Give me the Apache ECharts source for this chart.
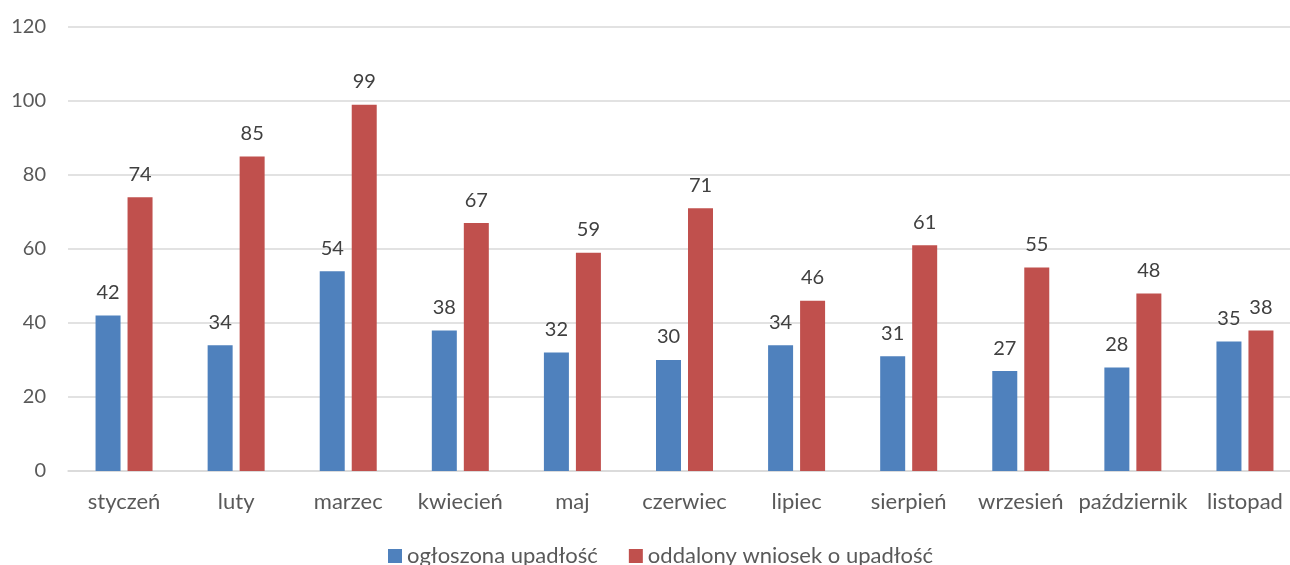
<!DOCTYPE html>
<html>
<head>
<meta charset="utf-8">
<script src="https://cdn.jsdelivr.net/npm/echarts@6/dist/echarts.min.js"></script>
<style>
	html, body { margin: 0; padding: 0; background: #fff; overflow: hidden; }
	#chart { width: 1302px; height: 565px; }
</style>
</head>
<body>
<div id="chart"></div>
<script>
// miesiące
var months = ['styczeń', 'luty', 'marzec', 'kwiecień', 'maj', 'czerwiec', 'lipiec', 'sierpień', 'wrzesień', 'październik', 'listopad'];
var ogloszona = [42, 34, 54, 38, 32, 30, 34, 31, 27, 28, 35];
var oddalony = [74, 85, 99, 67, 59, 71, 46, 61, 55, 48, 38];
var seriesNames = ['ogłoszona upadłość', 'oddalony wniosek o upadłość'];

var font = 'Lato';
var chart = echarts.init(document.getElementById('chart'));

var labelStyle = {
	show: true,
	position: 'top',
	distance: 13,
	color: '#404040',
	fontSize: 20,
	fontFamily: font
};

chart.setOption({
	animation: false,
	grid: { left: 68, top: 27, width: 1233, height: 444 },
	legend: {
		top: 540,
		left: 383,
		itemWidth: 14,
		itemHeight: 14,
		itemGap: 31,
		icon: 'rect',
		textStyle: { color: '#595959', fontSize: 22, fontFamily: font },
		data: seriesNames
	},
	xAxis: {
		type: 'category',
		data: months,
		axisTick: { show: false },
		axisLine: { lineStyle: { color: '#d9d9d9', width: 1.5 } },
		axisLabel: { color: '#595959', fontSize: 22, fontFamily: font, margin: 20, interval: 0 }
	},
	yAxis: {
		type: 'value',
		min: 0,
		max: 120,
		interval: 20,
		axisLine: { show: false },
		axisTick: { show: false },
		splitLine: { lineStyle: { color: '#d9d9d9', width: 1.5 } },
		axisLabel: { color: '#595959', fontSize: 20, fontFamily: font, margin: 22 }
	},
	series: [
		{
			name: seriesNames[0],
			type: 'bar',
			data: ogloszona,
			barWidth: 25,
			barGap: '28%',
			itemStyle: { color: '#4F81BD' },
			label: labelStyle
		},
		{
			name: seriesNames[1],
			type: 'bar',
			data: oddalony,
			barWidth: 25,
			barGap: '28%',
			itemStyle: { color: '#C0504D' },
			label: labelStyle
		}
	]
});
</script>
</body>
</html>
